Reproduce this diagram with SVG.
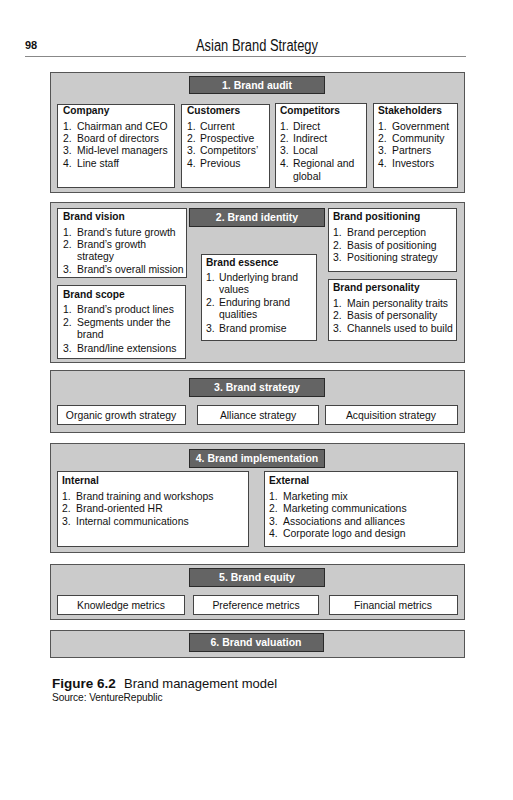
<svg xmlns="http://www.w3.org/2000/svg" width="513" height="800" viewBox="0 0 513 800">
<style>
text{font-family:"Liberation Sans",Arial,sans-serif;fill:#111;}
.panel{fill:#cbcbcb;stroke:#555;stroke-width:1;}
.title{fill:#646464;stroke:#2a2a2a;stroke-width:1;}
.tt{fill:#fff;font-weight:bold;font-size:10.5px;text-anchor:middle;}
.box{fill:#fff;stroke:#444;stroke-width:1;}
.h{font-weight:bold;font-size:10.2px;}
.i{font-size:10.4px;}
.c{font-size:10.4px;text-anchor:middle;}
</style>
<rect width="513" height="800" fill="#fff"/>
<g id="header">
<text x="25" y="49" style="font-weight:bold;font-size:11px">98</text>
<text x="257" y="51" style="font-size:16px;text-anchor:middle" textLength="122" lengthAdjust="spacingAndGlyphs">Asian Brand Strategy</text>
<line x1="25" y1="56.5" x2="466" y2="56.5" stroke="#888" stroke-width="1"/>
</g>
<g id="audit">
<rect class="panel" x="50.5" y="72.5" width="414" height="120"/>
<rect class="title" x="189.5" y="76.5" width="135" height="17"/>
<text class="tt" x="257" y="89">1. Brand audit</text>
<g id="company">
<rect class="box" x="57.5" y="104.5" width="117" height="83"/>
<text class="h" x="63" y="114">Company</text>
<text class="i" x="63" y="130">1.</text><text class="i" x="77" y="130">Chairman and CEO</text>
<text class="i" x="63" y="142">2.</text><text class="i" x="77" y="142">Board of directors</text>
<text class="i" x="63" y="154">3.</text><text class="i" x="77" y="154">Mid-level managers</text>
<text class="i" x="63" y="167">4.</text><text class="i" x="77" y="167">Line staff</text>
</g>
<g id="customers">
<rect class="box" x="181.5" y="104.5" width="88" height="83"/>
<text class="h" x="187" y="114">Customers</text>
<text class="i" x="187" y="130">1.</text><text class="i" x="200" y="130">Current</text>
<text class="i" x="187" y="142">2.</text><text class="i" x="200" y="142">Prospective</text>
<text class="i" x="187" y="154">3.</text><text class="i" x="200" y="154">Competitors’</text>
<text class="i" x="187" y="167">4.</text><text class="i" x="200" y="167">Previous</text>
</g>
<g id="competitors">
<rect class="box" x="275.5" y="103.5" width="91" height="84"/>
<text class="h" x="280" y="114">Competitors</text>
<text class="i" x="280" y="130">1.</text><text class="i" x="293" y="130">Direct</text>
<text class="i" x="280" y="142">2.</text><text class="i" x="293" y="142">Indirect</text>
<text class="i" x="280" y="154">3.</text><text class="i" x="293" y="154">Local</text>
<text class="i" x="280" y="167">4.</text><text class="i" x="293" y="167">Regional and</text>
<text class="i" x="293" y="180">global</text>
</g>
<g id="stakeholders">
<rect class="box" x="373.5" y="103.5" width="84" height="84"/>
<text class="h" x="378" y="114">Stakeholders</text>
<text class="i" x="378" y="130">1.</text><text class="i" x="392" y="130">Government</text>
<text class="i" x="378" y="142">2.</text><text class="i" x="392" y="142">Community</text>
<text class="i" x="378" y="154">3.</text><text class="i" x="392" y="154">Partners</text>
<text class="i" x="378" y="167">4.</text><text class="i" x="392" y="167">Investors</text>
</g>
</g>
<g id="identity">
<rect class="panel" x="50.5" y="202.5" width="414" height="160"/>
<rect class="title" x="189.5" y="208.5" width="135" height="18"/>
<text class="tt" x="257" y="221">2. Brand identity</text>
<g id="vision">
<rect class="box" x="57.5" y="208.5" width="129" height="69"/>
<text class="h" x="63" y="220">Brand vision</text>
<text class="i" x="63" y="236">1.</text><text class="i" x="77" y="236">Brand’s future growth</text>
<text class="i" x="63" y="248">2.</text><text class="i" x="77" y="248">Brand’s growth</text>
<text class="i" x="77" y="260">strategy</text>
<text class="i" x="63" y="273">3.</text><text class="i" x="77" y="273">Brand’s overall mission</text>
</g>
<g id="scope">
<rect class="box" x="57.5" y="285.5" width="128" height="73"/>
<text class="h" x="63" y="298">Brand scope</text>
<text class="i" x="63" y="313">1.</text><text class="i" x="77" y="313">Brand’s product lines</text>
<text class="i" x="63" y="326">2.</text><text class="i" x="77" y="326">Segments under the</text>
<text class="i" x="77" y="338">brand</text>
<text class="i" x="63" y="352">3.</text><text class="i" x="77" y="352">Brand/line extensions</text>
</g>
<g id="essence">
<rect class="box" x="201.5" y="254.5" width="115" height="86"/>
<text class="h" x="206" y="266">Brand essence</text>
<text class="i" x="206" y="281">1.</text><text class="i" x="219" y="281">Underlying brand</text>
<text class="i" x="219" y="293">values</text>
<text class="i" x="206" y="306">2.</text><text class="i" x="219" y="306">Enduring brand</text>
<text class="i" x="219" y="318">qualities</text>
<text class="i" x="206" y="332">3.</text><text class="i" x="219" y="332">Brand promise</text>
</g>
<g id="positioning">
<rect class="box" x="328.5" y="208.5" width="128" height="63"/>
<text class="h" x="333" y="220">Brand positioning</text>
<text class="i" x="333" y="236">1.</text><text class="i" x="347" y="236">Brand perception</text>
<text class="i" x="333" y="249">2.</text><text class="i" x="347" y="249">Basis of positioning</text>
<text class="i" x="333" y="261">3.</text><text class="i" x="347" y="261">Positioning strategy</text>
</g>
<g id="personality">
<rect class="box" x="328.5" y="279.5" width="128" height="61"/>
<text class="h" x="333" y="291">Brand personality</text>
<text class="i" x="333" y="307">1.</text><text class="i" x="347" y="307">Main personality traits</text>
<text class="i" x="333" y="319">2.</text><text class="i" x="347" y="319">Basis of personality</text>
<text class="i" x="333" y="332">3.</text><text class="i" x="347" y="332">Channels used to build</text>
</g>
</g>
<g id="strategy">
<rect class="panel" x="50.5" y="370.5" width="414" height="62"/>
<rect class="title" x="189.5" y="378.5" width="135" height="18"/>
<text class="tt" x="257" y="391">3. Brand strategy</text>
<g id="organic"><rect class="box" x="57.5" y="405.5" width="128" height="19"/><text class="c" x="121" y="419">Organic growth strategy</text></g>
<g id="alliance"><rect class="box" x="197.5" y="405.5" width="121" height="19"/><text class="c" x="258" y="419">Alliance strategy</text></g>
<g id="acquisition"><rect class="box" x="325.5" y="405.5" width="132" height="19"/><text class="c" x="391" y="419">Acquisition strategy</text></g>
</g>
<g id="implementation">
<rect class="panel" x="50.5" y="443.5" width="414" height="109"/>
<rect class="title" x="189.5" y="449.5" width="135" height="18"/>
<text class="tt" x="257" y="462">4. Brand implementation</text>
<g id="internal">
<rect class="box" x="57.5" y="471.5" width="191" height="75"/>
<text class="h" x="62" y="484">Internal</text>
<text class="i" x="62" y="500">1.</text><text class="i" x="76" y="500">Brand training and workshops</text>
<text class="i" x="62" y="512">2.</text><text class="i" x="76" y="512">Brand-oriented HR</text>
<text class="i" x="62" y="525">3.</text><text class="i" x="76" y="525">Internal communications</text>
</g>
<g id="external">
<rect class="box" x="264.5" y="471.5" width="193" height="75"/>
<text class="h" x="269" y="484">External</text>
<text class="i" x="269" y="500">1.</text><text class="i" x="283" y="500">Marketing mix</text>
<text class="i" x="269" y="512">2.</text><text class="i" x="283" y="512">Marketing communications</text>
<text class="i" x="269" y="525">3.</text><text class="i" x="283" y="525">Associations and alliances</text>
<text class="i" x="269" y="537">4.</text><text class="i" x="283" y="537">Corporate logo and design</text>
</g>
</g>
<g id="equity">
<rect class="panel" x="50.5" y="564.5" width="414" height="55"/>
<rect class="title" x="189.5" y="568.5" width="135" height="18"/>
<text class="tt" x="257" y="581">5. Brand equity</text>
<g id="knowledge"><rect class="box" x="57.5" y="595.5" width="127" height="19"/><text class="c" x="121" y="609">Knowledge metrics</text></g>
<g id="preference"><rect class="box" x="193.5" y="595.5" width="125" height="19"/><text class="c" x="256" y="609">Preference metrics</text></g>
<g id="financial"><rect class="box" x="329.5" y="595.5" width="128" height="19"/><text class="c" x="393" y="609">Financial metrics</text></g>
</g>
<g id="valuation">
<rect class="panel" x="50.5" y="630.5" width="414" height="27"/>
<rect class="title" x="189.5" y="633.5" width="134" height="18"/>
<text class="tt" x="256" y="646">6. Brand valuation</text>
</g>
<g id="connectors"></g>
<g id="caption">
<text x="52" y="688" style="font-size:13.5px;font-weight:bold">Figure 6.2</text>
<text x="124" y="688" style="font-size:13px">Brand management model</text>
<text x="52" y="701" style="font-size:10.2px;letter-spacing:-0.1px">Source: VentureRepublic</text>
</g>
</svg>
